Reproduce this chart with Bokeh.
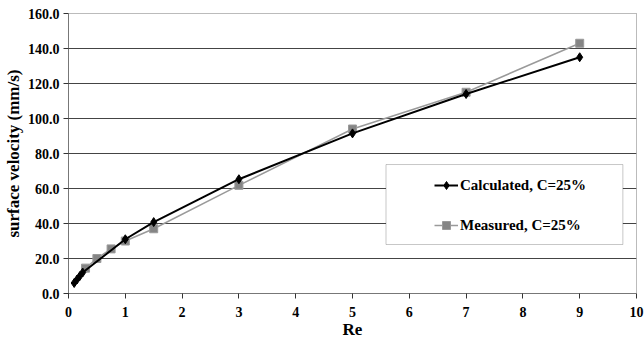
from bokeh.plotting import figure
from bokeh.models import (Range1d, FixedTicker, NumeralTickFormatter, Legend, LegendItem,
                          BoxAnnotation)
from bokeh.embed import file_html
from bokeh.resources import INLINE

# data
calc_re = [0.1, 0.15, 0.2, 0.25, 1, 1.5, 3, 5, 7, 9]
calc_v = [6.0, 8.0, 10.0, 12.0, 31.0, 40.8, 65.3, 91.5, 114.0, 135.0]
meas_re = [0.3, 0.5, 0.75, 1, 1.5, 3, 5, 7, 9]
meas_v = [14.5, 20.0, 25.5, 30.0, 37.0, 61.8, 94.0, 115.0, 143.0]
x_ticks = list(range(0, 11))
y_ticks = [0, 20, 40, 60, 80, 100, 120, 140, 160]

FONT = "Liberation Serif"

p = figure(width=644, height=343, output_backend="svg", toolbar_location=None,
           x_range=Range1d(0, 10), y_range=Range1d(0, 160),
           min_border_left=62, min_border_right=8, min_border_top=13, min_border_bottom=50)
p.background_fill_color = "white"
p.border_fill_color = "white"
p.outline_line_color = "#777777"
p.outline_line_dash = "1 1"
p.outline_line_width = 1

p.xgrid.visible = False
p.ygrid.ticker = FixedTicker(ticks=y_ticks[1:-1])
p.ygrid.grid_line_color = "#444444"
p.ygrid.grid_line_width = 1

for ax in (p.xaxis[0], p.yaxis[0]):
    ax.axis_line_color = "#333333"
    ax.axis_line_dash = "1 1"
    ax.major_tick_line_color = "#333333"
    ax.minor_tick_line_color = None
    ax.major_tick_in = 0
    ax.major_tick_out = 5
    ax.major_label_text_font = FONT
    ax.major_label_text_font_style = "bold"
    ax.major_label_text_font_size = "14px"
    ax.major_label_text_color = "black"
    ax.axis_label_text_font = FONT
    ax.axis_label_text_font_style = "bold"
    ax.axis_label_text_font_size = "17px"
    ax.axis_label_text_color = "black"

p.xaxis.ticker = FixedTicker(ticks=x_ticks)
p.yaxis.ticker = FixedTicker(ticks=y_ticks)
p.yaxis.formatter = NumeralTickFormatter(format="0.0")
p.xaxis.axis_label = "Re"
p.yaxis.axis_label = "surface velocity (mm/s)"
p.xaxis.major_label_standoff = 8
p.xaxis.axis_label_standoff = 0
p.yaxis.major_label_standoff = 4
p.yaxis.axis_label_standoff = 2

ml = p.line(meas_re, meas_v, line_color="#9a9a9a", line_width=1.5)
ms = p.scatter(meas_re, meas_v, marker="square", size=8, fill_color="#858585",
               line_color="#9a9a9a")
cl = p.line(calc_re, calc_v, line_color="black", line_width=2)
cs = p.scatter(calc_re, calc_v, marker="diamond", size=9, fill_color="black",
               line_color="black")

box = BoxAnnotation(left=5.59, right=9.76, bottom=28.0, top=73.7,
                    fill_color="white", fill_alpha=1.0,
                    line_color="#444444", line_width=1)
p.add_layout(box)

legend = Legend(items=[LegendItem(label="Calculated, C=25%", renderers=[cl, cs]),
                       LegendItem(label="Measured, C=25%", renderers=[ml, ms])],
                location=(366, 58), padding=0, spacing=20, glyph_width=24, glyph_height=20,
                label_height=20, label_standoff=2, margin=0,
                border_line_alpha=0, background_fill_alpha=0,
                label_text_font=FONT, label_text_font_style="bold",
                label_text_font_size="15px", label_text_color="black")
p.add_layout(legend)

open("out.html", "w").write(file_html(p, INLINE))
